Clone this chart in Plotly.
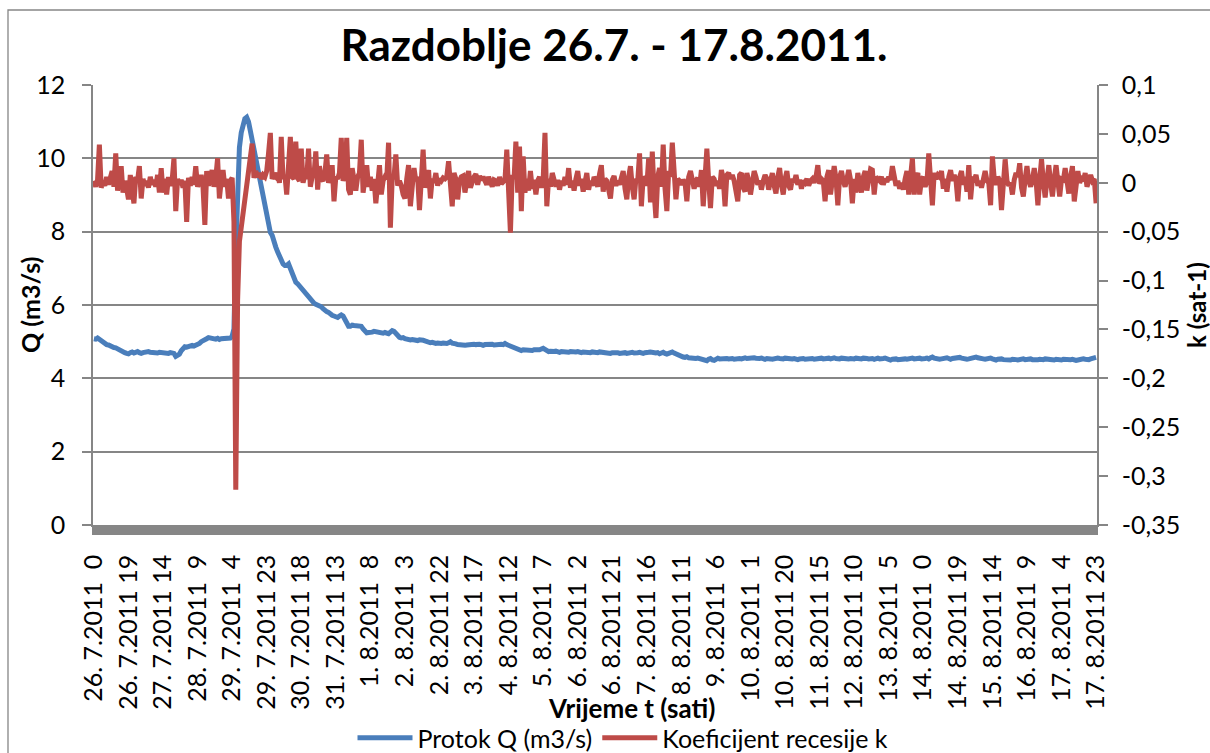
import plotly.graph_objects as go

# ---------------- data (hourly, 26.7.2011 0h ... 17.8.2011 23h) ----------------
q_values = [
    5.08, 5.07, 5.10, 5.06, 5.03, 5.00, 4.96, 4.92, 4.91, 4.88, 4.86, 4.84, 4.83, 4.80, 4.76, 4.74, 4.73, 4.70, 4.68, 4.67, 4.70, 4.72, 4.69, 4.72,
    4.73, 4.70, 4.68, 4.70, 4.72, 4.71, 4.73, 4.71, 4.70, 4.72, 4.70, 4.69, 4.71, 4.70, 4.68, 4.70, 4.67, 4.68, 4.70, 4.69, 4.68, 4.60, 4.62, 4.66,
    4.75, 4.82, 4.86, 4.85, 4.88, 4.87, 4.90, 4.88, 4.90, 4.92, 4.95, 5.00, 5.04, 5.05, 5.08, 5.11, 5.10, 5.08, 5.05, 5.07, 5.09, 5.06, 5.08, 5.09,
    5.10, 5.08, 5.11, 5.10, 5.15, 5.35, 7.50, 9.60, 10.30, 10.70, 10.95, 11.08, 11.12, 11.00, 10.75, 10.50, 10.20, 9.95, 9.65, 9.40, 9.15, 8.85, 8.60, 8.40,
    8.15, 7.98, 7.90, 7.70, 7.58, 7.45, 7.32, 7.20, 7.12, 7.08, 7.08, 7.12, 7.00, 6.85, 6.75, 6.62, 6.58, 6.52, 6.45, 6.38, 6.32, 6.28, 6.20, 6.15,
    6.08, 6.05, 6.02, 6.00, 6.00, 5.95, 5.90, 5.85, 5.82, 5.80, 5.75, 5.72, 5.70, 5.68, 5.66, 5.70, 5.73, 5.70, 5.62, 5.50, 5.42, 5.42, 5.45, 5.44,
    5.43, 5.44, 5.44, 5.42, 5.35, 5.27, 5.24, 5.25, 5.24, 5.26, 5.28, 5.27, 5.25, 5.24, 5.22, 5.23, 5.25, 5.24, 5.22, 5.26, 5.30, 5.28, 5.22, 5.15,
    5.12, 5.10, 5.11, 5.08, 5.06, 5.07, 5.05, 5.06, 5.04, 5.05, 5.03, 5.05, 5.06, 5.04, 5.02, 4.99, 4.98, 4.97, 4.98, 4.96, 4.95, 4.96, 4.94, 4.95,
    4.96, 4.94, 4.95, 4.97, 5.00, 4.96, 4.93, 4.94, 4.92, 4.91, 4.93, 4.92, 4.90, 4.91, 4.92, 4.90, 4.91, 4.93, 4.92, 4.94, 4.93, 4.92, 4.90, 4.92,
    4.93, 4.92, 4.94, 4.93, 4.91, 4.92, 4.94, 4.95, 4.93, 4.92, 4.95, 4.92, 4.90, 4.85, 4.84, 4.82, 4.80, 4.78, 4.78, 4.76, 4.78, 4.77, 4.76, 4.78,
    4.77, 4.76, 4.78, 4.77, 4.76, 4.78, 4.80, 4.82, 4.79, 4.75, 4.73, 4.74, 4.72, 4.73, 4.74, 4.72, 4.71, 4.73, 4.72, 4.74, 4.72, 4.71, 4.73, 4.72,
    4.70, 4.72, 4.73, 4.71, 4.70, 4.72, 4.71, 4.69, 4.71, 4.70, 4.72, 4.71, 4.69, 4.70, 4.72, 4.71, 4.70, 4.69, 4.71, 4.70, 4.68, 4.70, 4.71, 4.69,
    4.70, 4.68, 4.69, 4.71, 4.70, 4.68, 4.70, 4.72, 4.71, 4.69, 4.68, 4.70, 4.71, 4.69, 4.68, 4.70, 4.69, 4.71, 4.72, 4.70, 4.68, 4.69, 4.70, 4.67,
    4.69, 4.71, 4.68, 4.66, 4.68, 4.70, 4.72, 4.69, 4.66, 4.64, 4.62, 4.60, 4.58, 4.57, 4.59, 4.56, 4.55, 4.57, 4.56, 4.54, 4.55, 4.53, 4.54, 4.52,
    4.50, 4.48, 4.52, 4.54, 4.50, 4.49, 4.52, 4.55, 4.53, 4.54, 4.52, 4.55, 4.54, 4.53, 4.55, 4.54, 4.52, 4.53, 4.55, 4.54, 4.53, 4.55, 4.56, 4.54,
    4.55, 4.53, 4.54, 4.56, 4.55, 4.53, 4.54, 4.55, 4.53, 4.52, 4.54, 4.55, 4.53, 4.52, 4.54, 4.53, 4.55, 4.54, 4.52, 4.53, 4.55, 4.54, 4.52, 4.51,
    4.53, 4.54, 4.52, 4.51, 4.53, 4.55, 4.54, 4.52, 4.53, 4.55, 4.56, 4.54, 4.52, 4.53, 4.55, 4.57, 4.55, 4.53, 4.54, 4.56, 4.55, 4.53, 4.55, 4.56,
    4.54, 4.52, 4.53, 4.55, 4.54, 4.56, 4.55, 4.53, 4.54, 4.52, 4.53, 4.55, 4.54, 4.52, 4.53, 4.55, 4.56, 4.54, 4.53, 4.55, 4.54, 4.52, 4.54, 4.55,
    4.53, 4.52, 4.54, 4.55, 4.53, 4.51, 4.50, 4.52, 4.54, 4.53, 4.51, 4.52, 4.54, 4.55, 4.53, 4.52, 4.54, 4.56, 4.55, 4.53, 4.54, 4.56, 4.55, 4.53,
    4.52, 4.54, 4.55, 4.53, 4.56, 4.58, 4.55, 4.53, 4.54, 4.52, 4.53, 4.55, 4.54, 4.56, 4.54, 4.52, 4.54, 4.55, 4.53, 4.55, 4.57, 4.55, 4.53, 4.54,
    4.52, 4.53, 4.55, 4.54, 4.56, 4.58, 4.56, 4.54, 4.55, 4.53, 4.52, 4.54, 4.56, 4.55, 4.53, 4.51, 4.50, 4.52, 4.54, 4.53, 4.51, 4.50, 4.52, 4.51,
    4.50, 4.52, 4.53, 4.51, 4.50, 4.52, 4.54, 4.53, 4.51, 4.52, 4.54, 4.53, 4.51, 4.50, 4.49, 4.51, 4.52, 4.50, 4.51, 4.53, 4.52, 4.50, 4.49, 4.51,
    4.50, 4.52, 4.51, 4.49, 4.50, 4.52, 4.51, 4.50, 4.49, 4.51, 4.52, 4.50, 4.49, 4.50, 4.52, 4.51, 4.53, 4.52, 4.50, 4.51, 4.53, 4.54, 4.56, 4.57,
]

k_values = [
    0.002, -0.004, 0.003, 0.039, -0.005, 0.001, -0.003, 0.006, -0.002, 0.004, 0.012, -0.004, 0.030, -0.008, 0.004, 0.017, -0.010, 0.002, -0.006, -0.017, 0.008, -0.004, -0.021, 0.006,
    0.002, 0.017, -0.016, 0.004, -0.003, 0.002, -0.005, 0.006, -0.002, 0.003, -0.004, 0.008, -0.010, 0.015, -0.010, 0.004, -0.012, 0.006, -0.003, 0.002, 0.025, -0.029, 0.004, -0.002,
    0.003, -0.005, 0.002, -0.040, 0.005, -0.003, 0.006, -0.002, 0.017, -0.004, 0.003, 0.008, -0.005, -0.043, 0.012, -0.003, 0.006, 0.013, -0.004, 0.005, 0.025, -0.016, 0.002, 0.013,
    -0.004, 0.004, -0.016, 0.002, 0.005, -0.040, -0.314, -0.120, -0.060, -0.045, -0.030, -0.015, 0.000, 0.012, 0.025, 0.040, 0.005, 0.012, 0.006, 0.010, 0.004, 0.008, 0.006, 0.012,
    0.030, 0.051, 0.004, 0.008, 0.006, 0.010, 0.000, 0.047, 0.004, 0.008, -0.012, 0.010, 0.047, 0.006, 0.004, 0.042, 0.005, 0.002, 0.035, 0.000, 0.008, 0.004, 0.035, -0.004,
    0.006, 0.008, 0.032, -0.007, 0.017, 0.004, 0.002, 0.010, 0.029, 0.000, 0.006, 0.018, -0.019, 0.006, 0.004, 0.010, 0.046, 0.002, 0.008, 0.046, -0.007, -0.012, 0.015, 0.003,
    -0.008, 0.006, 0.010, 0.044, -0.010, 0.004, 0.018, -0.004, 0.006, -0.008, 0.004, -0.021, 0.006, 0.018, -0.012, 0.002, 0.006, 0.004, 0.041, -0.046, 0.004, 0.006, 0.029, -0.003,
    0.002, -0.003, -0.012, -0.016, 0.004, 0.018, -0.024, 0.004, 0.015, 0.002, 0.006, -0.028, 0.004, 0.034, -0.005, 0.002, 0.013, -0.016, 0.004, 0.000, 0.010, -0.003, 0.004, 0.002,
    0.005, 0.004, 0.006, 0.022, 0.004, -0.024, 0.010, 0.004, -0.017, 0.002, 0.006, 0.007, -0.010, 0.002, 0.012, -0.005, 0.002, 0.006, 0.009, -0.002, 0.007, 0.003, 0.006, 0.002,
    -0.002, 0.006, 0.001, -0.004, 0.003, 0.002, -0.003, 0.006, -0.001, 0.002, 0.003, 0.034, -0.010, -0.051, 0.008, 0.004, 0.042, -0.010, 0.037, -0.029, 0.027, -0.010, 0.004, -0.008,
    0.012, -0.006, 0.003, -0.012, 0.002, 0.006, -0.005, 0.003, 0.051, -0.024, 0.004, -0.004, 0.010, 0.002, -0.004, 0.003, -0.007, 0.002, -0.003, 0.006, -0.002, 0.015, -0.005, 0.002,
    -0.008, 0.004, 0.012, -0.003, 0.004, -0.009, 0.003, 0.010, -0.007, 0.002, -0.003, 0.006, 0.002, -0.004, 0.009, 0.018, -0.009, 0.004, 0.002, -0.006, -0.016, 0.003, 0.007, -0.003,
    0.002, -0.002, 0.004, 0.012, -0.006, -0.017, 0.006, 0.017, -0.004, -0.017, 0.004, 0.002, 0.030, -0.024, 0.006, 0.004, -0.003, 0.025, -0.020, 0.032, -0.010, -0.036, 0.006, 0.015,
    -0.004, 0.039, -0.006, -0.029, 0.012, 0.006, 0.041, 0.005, -0.017, 0.004, 0.002, -0.002, 0.003, 0.000, -0.019, 0.006, 0.012, 0.003, -0.006, 0.002, 0.005, -0.004, 0.013, -0.024,
    0.006, 0.035, 0.002, -0.026, 0.006, 0.004, -0.003, 0.002, -0.006, 0.013, 0.004, -0.024, 0.008, 0.010, 0.004, 0.008, 0.002, -0.006, -0.019, 0.008, 0.010, -0.005, -0.009, 0.010,
    0.002, -0.012, 0.004, 0.012, 0.006, -0.002, 0.002, -0.007, 0.002, 0.008, 0.004, -0.007, 0.002, 0.010, -0.003, -0.011, 0.006, 0.015, -0.002, -0.012, 0.004, 0.012, -0.003, -0.007,
    0.004, 0.000, 0.008, -0.002, 0.003, -0.006, 0.002, 0.000, 0.004, -0.003, 0.002, 0.004, 0.000, 0.006, 0.018, -0.001, 0.004, 0.002, -0.019, 0.006, 0.013, -0.012, 0.003, 0.017,
    0.004, -0.023, 0.006, 0.012, 0.002, -0.004, 0.004, 0.013, 0.003, -0.021, 0.004, -0.010, 0.010, 0.002, -0.010, 0.006, 0.012, -0.008, 0.004, 0.014, 0.013, -0.012, 0.006, 0.003,
    0.002, 0.006, -0.002, 0.004, 0.001, 0.006, 0.003, 0.017, 0.003, -0.003, 0.002, -0.006, 0.000, -0.007, 0.004, 0.012, -0.012, 0.004, 0.025, -0.012, 0.006, 0.010, -0.012, 0.003,
    0.006, -0.004, 0.001, 0.030, 0.008, -0.023, 0.010, 0.004, 0.008, 0.006, 0.012, -0.006, 0.004, -0.009, 0.006, 0.013, 0.002, 0.008, 0.002, -0.019, 0.006, 0.012, -0.002, 0.006,
    -0.009, 0.018, -0.017, 0.004, 0.003, 0.008, -0.003, 0.002, -0.005, 0.006, 0.012, 0.002, 0.000, -0.023, 0.027, 0.004, -0.002, 0.006, 0.002, -0.028, 0.006, 0.024, 0.002, -0.003,
    0.000, -0.012, 0.003, 0.010, 0.006, 0.020, -0.005, -0.014, 0.004, 0.017, 0.002, -0.004, 0.003, 0.015, 0.002, -0.023, 0.004, 0.024, 0.001, -0.015, 0.003, 0.018, 0.000, -0.014,
    0.004, 0.018, 0.001, -0.014, 0.004, 0.003, 0.015, 0.001, -0.011, 0.006, 0.017, -0.019, 0.003, 0.012, 0.000, 0.004, 0.002, 0.010, -0.004, 0.005, 0.008, 0.002, 0.004, -0.021,
]

tick_labels = [
    "26. 7.2011 \u00a00", "26. 7.2011 19", "27. 7.2011 14", "28. 7.2011 \u00a09", "29. 7.2011 \u00a04",
    "29. 7.2011 23", "30. 7.2011 18", "31. 7.2011 13", "1. 8.2011 \u00a08", "2. 8.2011 \u00a03",
    "2. 8.2011 22", "3. 8.2011 17", "4. 8.2011 12", "5. 8.2011 \u00a07", "6. 8.2011 \u00a02",
    "6. 8.2011 21", "7. 8.2011 16", "8. 8.2011 11", "9. 8.2011 \u00a06", "10. 8.2011 \u00a01",
    "10. 8.2011 20", "11. 8.2011 15", "12. 8.2011 10", "13. 8.2011 \u00a05", "14. 8.2011 \u00a00",
    "14. 8.2011 19", "15. 8.2011 14", "16. 8.2011 \u00a09", "17. 8.2011 \u00a04", "17. 8.2011 23",
]
label_step = 19
k_tick_values = [0.1, 0.05, 0, -0.05, -0.1, -0.15, -0.2, -0.25, -0.3, -0.35]
k_tick_text = ["0,1", "0,05", "0", "-0,05", "-0,1", "-0,15", "-0,2", "-0,25", "-0,3", "-0,35"]

assert len(q_values) == len(k_values) == 552

hours = list(range(len(q_values)))
tick_positions = hours[::label_step]

FONT = "Lato"
GRAY = "#868686"
BLUE = "#4A7EBB"
RED = "#BE4B48"
TICK_SIZE = 25

fig = go.Figure()
fig.add_trace(go.Scatter(x=hours, y=q_values, mode="lines", name="Protok Q (m3/s)",
                         line=dict(color=BLUE, width=5), yaxis="y"))
fig.add_trace(go.Scatter(x=hours, y=k_values, mode="lines", name="Koeficijent recesije k",
                         line=dict(color=RED, width=5), yaxis="y2"))

# plot area in pixels: x 93..1097, y 85..525
L, R, T, B = 93, 1097, 85, 525
W, H = R - L, B - T
def px(x):
    return (x - L) / W
def py(y):
    return (B - y) / H

tickfont = dict(family=FONT, size=TICK_SIZE, color="black")

fig.update_layout(
    width=1210, height=753,
    margin=dict(l=L, r=1210 - R, t=T, b=753 - B, autoexpand=False),
    paper_bgcolor="white", plot_bgcolor="white",
    font=dict(family=FONT, size=TICK_SIZE, color="black"),
    title=dict(text="<b>Razdoblje 26.7. - 17.8.2011.</b>", font=dict(family=FONT, size=44, color="black"),
               x=614 / 1210, xanchor="center", y=1 - 46 / 753, yanchor="middle"),
    xaxis=dict(range=[-0.5, len(hours) - 0.5], tickmode="array", tickvals=tick_positions, ticktext=tick_labels,
               tickangle=-90, showgrid=False, zeroline=False, showline=True, linecolor=GRAY, linewidth=1.5,
               ticks="outside", ticklen=8, tickcolor=GRAY, tickwidth=2, ticklabelstandoff=10,
               automargin=False,
               minor=dict(tickmode="linear", tick0=-0.5, dtick=1, ticks="outside", ticklen=8,
                          tickcolor=GRAY, tickwidth=2),
               tickfont=tickfont),
    yaxis=dict(range=[0, 12], dtick=2, tick0=0, showgrid=True, gridcolor=GRAY, gridwidth=1.5,
               zeroline=False, showline=True, linecolor=GRAY, linewidth=1.5, automargin=False,
               ticks="outside", ticklen=9, tickcolor=GRAY, tickwidth=1.5, ticklabelstandoff=12,
               tickfont=tickfont),
    yaxis2=dict(range=[-0.35, 0.1], overlaying="y", side="right", tickmode="array",
                tickvals=k_tick_values, ticktext=k_tick_text, showgrid=False, zeroline=False,
                showline=True, linecolor=GRAY, linewidth=1.5, ticks="outside", ticklen=9,
                tickcolor=GRAY, tickwidth=1.5, ticklabelstandoff=9, automargin=False,
                tickfont=tickfont),
    legend=dict(orientation="h", x=px(623), xanchor="center", y=py(738), yanchor="middle",
                font=dict(family=FONT, size=25, color="black"), itemwidth=55,
                bgcolor="rgba(0,0,0,0)", traceorder="normal"),
    showlegend=True,
)

fig.add_annotation(text="<b>Q (m3/s)</b>", xref="paper", yref="paper", x=px(30), y=py(305),
                   textangle=-90, showarrow=False, font=dict(family=FONT, size=25, color="black"),
                   xanchor="center", yanchor="middle")
fig.add_annotation(text="<b>k (sat-1)</b>", xref="paper", yref="paper", x=px(1196), y=py(305),
                   textangle=-90, showarrow=False, font=dict(family=FONT, size=24, color="black"),
                   xanchor="center", yanchor="middle")
fig.add_annotation(text="<b>Vrijeme t (sati)</b>", xref="paper", yref="paper", x=px(631), y=py(708),
                   showarrow=False, font=dict(family=FONT, size=26, color="black"),
                   xanchor="center", yanchor="middle")

# chart-area border
fig.add_shape(type="rect", xref="paper", yref="paper", x0=px(8), x1=px(1215), y0=py(770), y1=py(10),
              line=dict(color=GRAY, width=1.3), fillcolor="rgba(0,0,0,0)", layer="below")

fig.write_html("out.html", config={"displayModeBar": False},
               post_script="document.body.style.margin='0';")
